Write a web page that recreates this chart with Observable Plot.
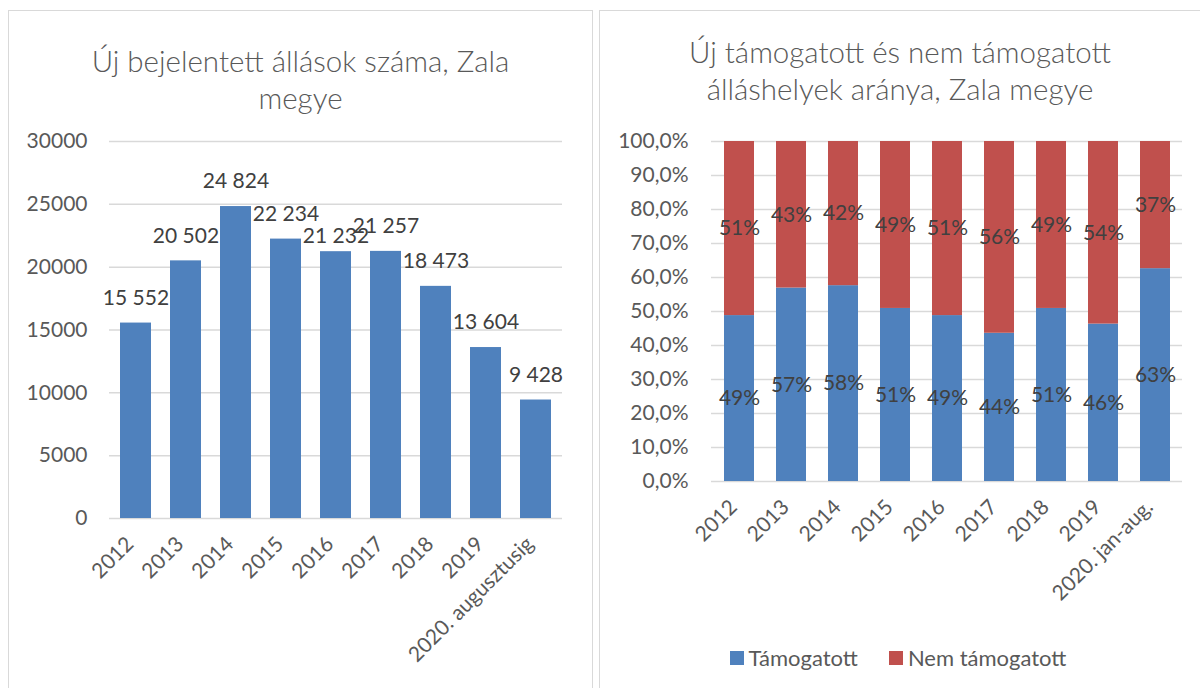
<!DOCTYPE html>
<html><head><meta charset="utf-8">
<script src="https://cdn.jsdelivr.net/npm/d3@7"></script>
<script src="https://cdn.jsdelivr.net/npm/@observablehq/plot@0.6"></script>
<style>
body{margin:0;background:#fff;font-family:Lato,"Open Sans",sans-serif;}
#wrap{position:relative;width:1200px;height:688px;overflow:hidden;background:#fff}
.panel{position:absolute;border:1.5px solid #D9D9D9;box-sizing:border-box}
.title{position:absolute;text-align:center;color:#595959;font-size:29.5px;font-weight:300;line-height:37px;z-index:2}
.chart{position:absolute;top:0}
.legend{position:absolute;top:644px;left:596px;width:604px;display:flex;justify-content:center;gap:31px;font-size:22px;color:#595959;z-index:2}
.legend span{display:inline-flex;align-items:center}
.legend i{display:inline-block;width:14px;height:14px;margin-right:5px}
</style></head>
<body><div id="wrap">
<div class="panel" style="left:8px;top:10px;width:585px;height:720px"></div>
<div class="panel" style="left:599px;top:10px;width:640px;height:720px"></div>
<div id="c1" class="chart" style="left:0"></div>
<div id="c2" class="chart" style="left:596px"></div>
<div class="title" style="left:8px;width:585px;top:42px">Új bejelentett állások száma, Zala<br>megye</div>
<div class="title" style="left:599px;width:602px;top:33px">Új támogatott és nem támogatott<br>álláshelyek aránya, Zala megye</div>
<div class="legend" id="legend"></div>
</div>
<script>
// ---- data ----
const years1 = ["2012","2013","2014","2015","2016","2017","2018","2019","2020. augusztusig"];
const jobs = [15552, 20502, 24824, 22234, 21232, 21257, 18473, 13604, 9428];
const yTicks1 = [0, 5000, 10000, 15000, 20000, 25000, 30000];

const years2 = ["2012","2013","2014","2015","2016","2017","2018","2019","2020. jan-aug."];
const supported = [48.8, 56.9, 57.6, 50.9, 48.8, 43.6, 50.9, 46.3, 62.6];
const unsupported = [51.2, 43.1, 42.4, 49.1, 51.2, 56.4, 49.1, 53.7, 37.4];
const seriesNames = ["Támogatott", "Nem támogatott"];
const seriesColors = ["#4F81BD", "#C0504D"];
const yTicks2 = [0, 10, 20, 30, 40, 50, 60, 70, 80, 90, 100];

// ---- chart 1 ----
const data1 = years1.map((c, i) => ({
  cat: c, value: jobs[i],
  // label crowded by a slightly taller right neighbour (nudged down, as in the source)
  crowded: i < jobs.length - 1 && jobs[i + 1] > jobs[i] && jobs[i + 1] - jobs[i] < 500
}));
const fmtSpace = v => d3.format(",")(v).replace(/,/g, " ");
const font = "Lato, 'Open Sans', sans-serif";

const p1 = Plot.plot({
  width: 596, height: 688,
  marginLeft: 109, marginRight: 34, marginTop: 141, marginBottom: 170,
  style: {fontFamily: font, fontSize: "21px", color: "#595959", background: "transparent"},
  x: {domain: years1, paddingInner: 0.38, paddingOuter: 0.19, label: null},
  y: {domain: [0, 30000], label: null},
  marks: [
    Plot.gridY(yTicks1, {stroke: "#D9D9D9", strokeOpacity: 1, strokeWidth: 1.5}),
    Plot.barY(data1, {x: "cat", y: "value", fill: "#4F81BD"}),
    Plot.text(data1.filter(d => !d.crowded), {x: "cat", y: "value", text: d => fmtSpace(d.value), dy: -25, fill: "#404040", fontSize: 21}),
    Plot.text(data1.filter(d => d.crowded), {x: "cat", y: "value", text: d => fmtSpace(d.value), dy: -15, fill: "#404040", fontSize: 21}),
    Plot.axisY({ticks: yTicks1, tickFormat: d => String(d), tickSize: 0, tickPadding: 22, label: null, fill: "#595959"}),
    Plot.axisX({tickSize: 0, tickRotate: -45, tickPadding: 22, dx: -6, label: null, fill: "#595959"})
  ]
});
document.getElementById("c1").appendChild(p1);

// ---- chart 2 ----
const data2 = [];
seriesNames.forEach((s, k) => {
  const vals = k === 0 ? supported : unsupported;
  years2.forEach((c, i) => data2.push({cat: c, series: s, value: vals[i]}));
});

const p2 = Plot.plot({
  width: 604, height: 688,
  marginLeft: 115, marginRight: 18, marginTop: 141, marginBottom: 207,
  style: {fontFamily: font, fontSize: "21px", color: "#595959", background: "transparent"},
  x: {domain: years2, paddingInner: 0.43, paddingOuter: 0.215, label: null},
  y: {domain: [0, 100], label: null},
  color: {domain: seriesNames, range: seriesColors},
  marks: [
    Plot.gridY(yTicks2, {stroke: "#D9D9D9", strokeOpacity: 1, strokeWidth: 1.5}),
    Plot.barY(data2, Plot.stackY({x: "cat", y: "value", fill: "series", order: seriesNames})),
    Plot.text(data2, Plot.stackY({x: "cat", y: "value", z: "series", order: seriesNames, text: d => Math.round(d.value) + "%", fill: "#404040", fontSize: 21})),
    Plot.axisY({ticks: yTicks2, tickFormat: d => d.toFixed(1).replace(".", ",") + "%", tickSize: 0, tickPadding: 23, label: null, fill: "#595959"}),
    Plot.axisX({tickSize: 0, tickRotate: -45, tickPadding: 22, dx: -6, label: null, fill: "#595959"})
  ]
});
document.getElementById("c2").appendChild(p2);

// ---- legend ----
const lg = document.getElementById("legend");
seriesNames.forEach((s, k) => {
  const sp = document.createElement("span");
  sp.innerHTML = `<i style="background:${seriesColors[k]}"></i>${s}`;
  lg.appendChild(sp);
});
</script>
</body></html>
